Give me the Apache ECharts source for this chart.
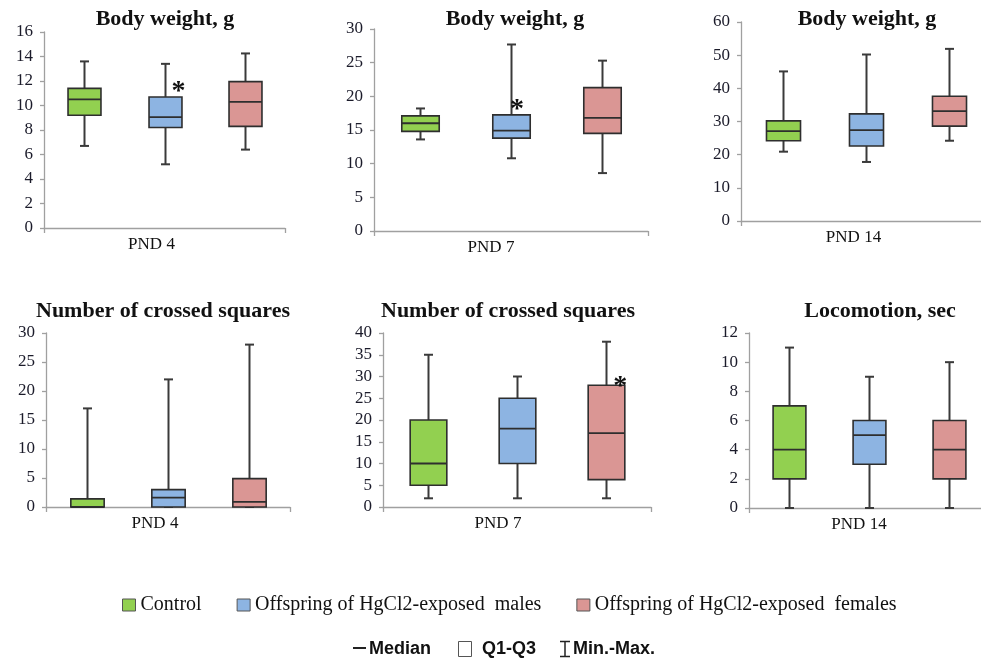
<!DOCTYPE html>
<html>
<head>
<meta charset="utf-8">
<title>Body weight and activity of offspring</title>
<script src="https://cdn.jsdelivr.net/npm/echarts@6/dist/echarts.min.js"></script>
<style>
  html, body { margin: 0; padding: 0; background: #fff; overflow: hidden; }
  /* the right-hand panels run past the page edge, as in the source figure */
  #chart { width: 1000px; height: 662px; }
</style>
</head>
<body>
<div id="chart"></div>
<script>
// groups, in legend order
var groups = ['Control', 'Offspring of HgCl2-exposed  males', 'Offspring of HgCl2-exposed  females'];
var groupColors = ['#92d050', '#8db4e2', '#da9694'];

// one entry per panel (top row, then bottom row)
var panelTitles = ['Body weight, g', 'Body weight, g', 'Body weight, g',
  'Number of crossed squares', 'Number of crossed squares', 'Locomotion, sec'];
var panelDays = ['PND 4', 'PND 7', 'PND 14', 'PND 4', 'PND 7', 'PND 14'];
var yMax = [16, 30, 60, 30, 40, 12];
var yStep = [2, 5, 10, 5, 5, 2];

// [min, Q1, median, Q3, max] for each panel
var controlBoxes = [
  [6.7, 9.2, 10.5, 11.4, 13.6],
  [13.6, 14.8, 16.0, 17.1, 18.2],
  [20.9, 24.2, 27.1, 30.2, 45.1],
  [0, 0, 0, 1.4, 17],
  [2, 5, 10, 20, 35],
  [0, 2, 4, 7, 11]
];
var malesBoxes = [
  [5.2, 8.2, 9.05, 10.7, 13.4],
  [10.8, 13.8, 14.9, 17.25, 27.7],
  [17.8, 22.6, 27.4, 32.3, 50.2],
  [0, 0, 1.6, 3, 22],
  [2, 10, 18, 25, 30],
  [0, 3, 5, 6, 9]
];
var femalesBoxes = [
  [6.4, 8.3, 10.3, 11.95, 14.25],
  [8.6, 14.5, 16.8, 21.3, 25.3],
  [24.2, 28.6, 33.1, 37.6, 51.9],
  [0, 0, 0.9, 4.9, 28],
  [2, 6.3, 17, 28, 38],
  [0, 2, 4, 6, 10]
];
var groupBoxes = [controlBoxes, malesBoxes, femalesBoxes];

// significance marks: [panel, group, value]
var starMarks = [[0, 1, 11.9], [1, 1, 19.5], [4, 2, 29.9]];

// layout
var gridBoxes = [
  { left: 44, top: 32, width: 241, height: 196 },
  { left: 374, top: 29, width: 274, height: 202 },
  { left: 741, top: 22, width: 249, height: 199 },
  { left: 46, top: 333, width: 244, height: 174 },
  { left: 383, top: 333, width: 268, height: 174 },
  { left: 749, top: 333, width: 240, height: 175 }
];
var titleX = [165, 515, 867, 163, 508, 880];
var titleY = [8, 8, 8, 300, 300, 300];
var dayShift = [13, 20, 12, 13, 19, 10];
var starShiftX = [14, 6, 14];

var SERIF = "'Liberation Serif', 'Times New Roman', serif";
var SANS = "'Liberation Sans', Arial, sans-serif";
var AXIS_GREY = '#a0a0a0';
var INK = '#3a3a3a';

function renderBox(params, api) {
  var x = api.value(0);
  var pMin = api.coord([x, api.value(1)]);
  var pQ1 = api.coord([x, api.value(2)]);
  var pMed = api.coord([x, api.value(3)]);
  var pQ3 = api.coord([x, api.value(4)]);
  var pMax = api.coord([x, api.value(5)]);
  var w = api.size([1, 0])[0] * 0.41;
  var cx = Math.round(pMin[0]) + 0.5;
  var cap = 4.5;
  var line = { stroke: INK, lineWidth: 2 };
  return {
    type: 'group',
    children: [
      { type: 'line', shape: { x1: cx, y1: pMax[1], x2: cx, y2: pQ3[1] }, style: line },
      { type: 'line', shape: { x1: cx, y1: pQ1[1], x2: cx, y2: pMin[1] }, style: line },
      { type: 'line', shape: { x1: cx - cap, y1: pMax[1], x2: cx + cap, y2: pMax[1] }, style: line },
      { type: 'line', shape: { x1: cx - cap, y1: pMin[1], x2: cx + cap, y2: pMin[1] }, style: line },
      {
        type: 'rect',
        shape: { x: cx - w / 2, y: pQ3[1], width: w, height: pQ1[1] - pQ3[1] },
        style: { fill: api.visual('color'), stroke: '#2e2e2e', lineWidth: 1.6 }
      },
      { type: 'line', shape: { x1: cx - w / 2, y1: pMed[1], x2: cx + w / 2, y2: pMed[1] }, style: { stroke: '#2e2e2e', lineWidth: 1.8 } }
    ]
  };
}

function renderStar(params, api) {
  var p = api.coord([api.value(0), api.value(1)]);
  return {
    type: 'text',
    x: p[0] + api.value(2),
    y: p[1] + 10,
    style: {
      text: '*', fontSize: 28, fontWeight: 'bold', fontFamily: SERIF,
      fill: '#111', align: 'center', verticalAlign: 'middle'
    }
  };
}

var grids = [], xAxes = [], yAxes = [], titles = [], series = [];

panelTitles.forEach(function (t, i) {
  grids.push(gridBoxes[i]);
  titles.push({
    text: t, left: titleX[i], top: titleY[i], textAlign: 'center', padding: 0,
    textStyle: { fontFamily: SERIF, fontSize: 22, fontWeight: 'bold', color: '#111' }
  });
  // hidden axis carrying the three groups
  xAxes.push({ type: 'category', gridIndex: i, data: groups, show: false });
  // visible axis with the day label
  xAxes.push({
    type: 'category', gridIndex: i, data: [panelDays[i]], position: 'bottom',
    axisLine: { show: true, lineStyle: { color: AXIS_GREY, width: 1.3 } },
    axisTick: { show: true, length: 5, lineStyle: { color: AXIS_GREY, width: 1.3 } },
    axisLabel: {
      fontFamily: SERIF, fontSize: 17, color: '#111', margin: 8,
      padding: [0, dayShift[i] * 2, 0, 0]
    }
  });
  yAxes.push({
    type: 'value', gridIndex: i, min: 0, max: yMax[i], interval: yStep[i],
    splitLine: { show: false },
    axisLine: { show: true, lineStyle: { color: AXIS_GREY, width: 1.3 } },
    axisTick: { show: true, length: 4, lineStyle: { color: AXIS_GREY, width: 1.3 } },
    axisLabel: { fontFamily: SERIF, fontSize: 17, color: '#1b1b2a', margin: 11 }
  });
  groups.forEach(function (g, k) {
    series.push({
      type: 'custom', name: g, xAxisIndex: i * 2, yAxisIndex: i,
      itemStyle: { color: groupColors[k] },
      renderItem: renderBox,
      encode: { x: 0, y: [1, 2, 3, 4, 5] },
      data: [[k].concat(groupBoxes[k][i])],
      z: 3
    });
  });
});

starMarks.forEach(function (s, j) {
  series.push({
    type: 'custom', name: 'significance', xAxisIndex: s[0] * 2, yAxisIndex: s[0],
    renderItem: renderStar,
    encode: { x: 0, y: 1 },
    data: [[s[1], s[2], starShiftX[j]]],
    z: 4
  });
});

var chart = echarts.init(document.getElementById('chart'), null, { renderer: 'canvas' });
chart.setOption({
  animation: false,
  backgroundColor: '#fff',
  title: titles,
  grid: grids,
  xAxis: xAxes,
  yAxis: yAxes,
  legend: {
    data: groups, left: 117, top: 590, icon: 'rect',
    itemWidth: 13, itemHeight: 12, itemGap: 35,
    itemStyle: { borderColor: '#555', borderWidth: 1 },
    textStyle: { fontFamily: SERIF, fontSize: 20, color: '#111' }
  },
  graphic: [
    { type: 'line', shape: { x1: 353, y1: 648, x2: 366, y2: 648 }, style: { stroke: '#222', lineWidth: 2 } },
    { type: 'text', x: 369, y: 649, style: { text: 'Median', fontFamily: SANS, fontSize: 18, fontWeight: 'bold', fill: '#111', verticalAlign: 'middle' } },
    { type: 'rect', shape: { x: 458.5, y: 641.5, width: 13, height: 15 }, style: { fill: '#fff', stroke: '#555', lineWidth: 1 } },
    { type: 'text', x: 482, y: 649, style: { text: 'Q1-Q3', fontFamily: SANS, fontSize: 18, fontWeight: 'bold', fill: '#111', verticalAlign: 'middle' } },
    { type: 'polyline', shape: { points: [[560, 641.5], [570, 641.5]] }, style: { stroke: '#222', lineWidth: 1.5 } },
    { type: 'polyline', shape: { points: [[565, 641.5], [565, 656.5]] }, style: { stroke: '#222', lineWidth: 1.5 } },
    { type: 'polyline', shape: { points: [[560, 656.5], [570, 656.5]] }, style: { stroke: '#222', lineWidth: 1.5 } },
    { type: 'text', x: 573, y: 649, style: { text: 'Min.-Max.', fontFamily: SANS, fontSize: 18, fontWeight: 'bold', fill: '#111', verticalAlign: 'middle' } }
  ],
  series: series
});
</script>
</body>
</html>
